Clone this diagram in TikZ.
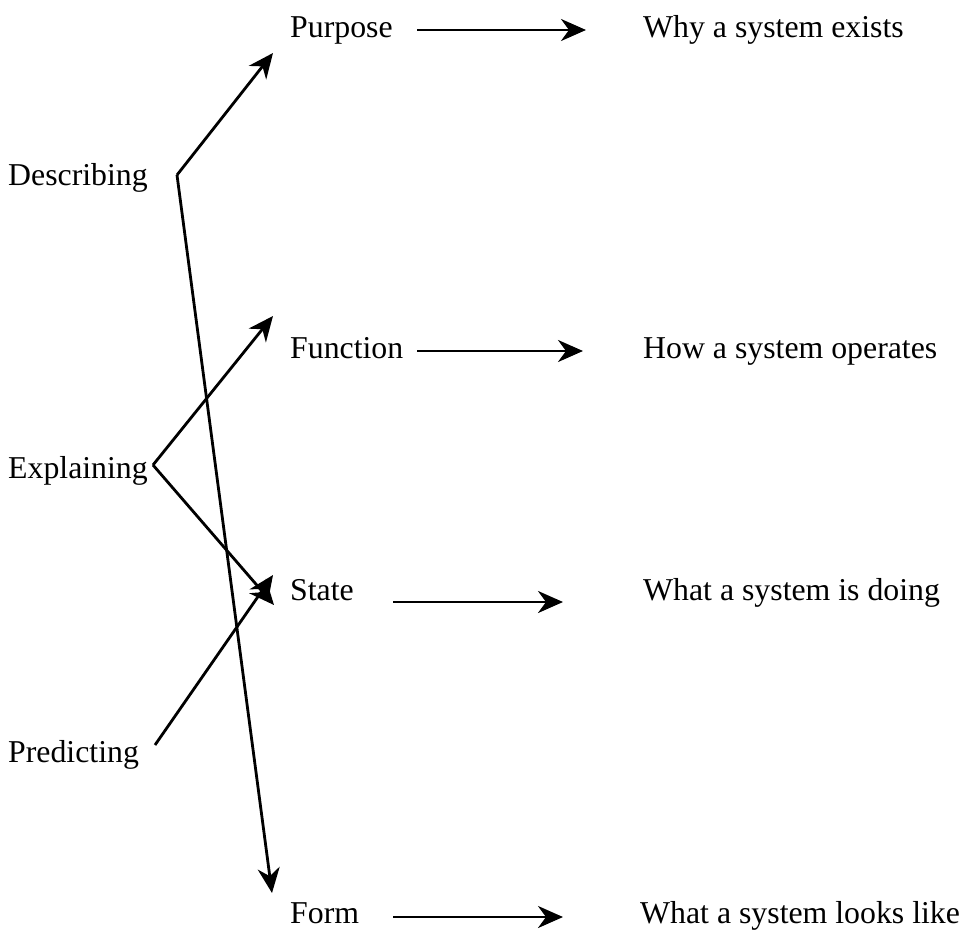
\documentclass[tikz,border=0pt]{standalone}
\usepackage{fontspec}
\setmainfont{Liberation Serif}
\usetikzlibrary{arrows.meta}
\begin{document}
\begin{tikzpicture}[x=1pt,y=-1pt,
  lbl/.style={anchor=base west,inner sep=0pt,font=\fontsize{31.8}{38}\selectfont},
  conn/.style={line width=2.8pt,-{Stealth[length=25pt,width=22pt,inset=8pt]}}]
\useasboundingbox (0,0) rectangle (965,929);
% left column
\node[lbl] (desc) at (8,185) {Describing};
\node[lbl] (expl) at (8,478) {Explaining};
\node[lbl] (pred) at (8,762) {Predicting};
% middle column
\node[lbl] (purp) at (290,37) {Purpose};
\node[lbl] (func) at (290,358) {Function};
\node[lbl] (stat) at (290,600) {State};
\node[lbl] (form) at (290,923) {Form};
% right column
\node[lbl] (why) at (643,37) {Why a system exists};
\node[lbl] (how) at (643,358) {How a system operates};
\node[lbl] (what) at (643,600) {What a system is doing};
\node[lbl] (look) at (640,923) {What a system looks like};
% connector points
\coordinate (dC) at (177,175);
\coordinate (eC) at (153,465);
\coordinate (pC) at (155,745);
\coordinate (purpIn) at (273,53);
\coordinate (formIn) at (272,893);
\coordinate (funcIn) at (273,316);
\coordinate (statInA) at (274,605);
\coordinate (statInB) at (273,575);
\coordinate (purpOut) at (417,30);
\coordinate (whyIn) at (586,30);
\coordinate (funcOut) at (417,351);
\coordinate (howIn) at (583,351);
\coordinate (statOut) at (393,602);
\coordinate (whatIn) at (563,602);
\coordinate (formOut) at (393,917);
\coordinate (lookIn) at (563,917);
% diagonal connectors
\draw[conn] (dC) -- (purpIn);
\draw[conn] (dC) -- (formIn);
\draw[conn] (eC) -- (funcIn);
\draw[conn] (eC) -- (statInA);
\draw[conn] (pC) -- (statInB);
% horizontal connectors
\draw[conn] (purpOut) -- (whyIn);
\draw[conn] (funcOut) -- (howIn);
\draw[conn] (statOut) -- (whatIn);
\draw[conn] (formOut) -- (lookIn);
\end{tikzpicture}
\end{document}
